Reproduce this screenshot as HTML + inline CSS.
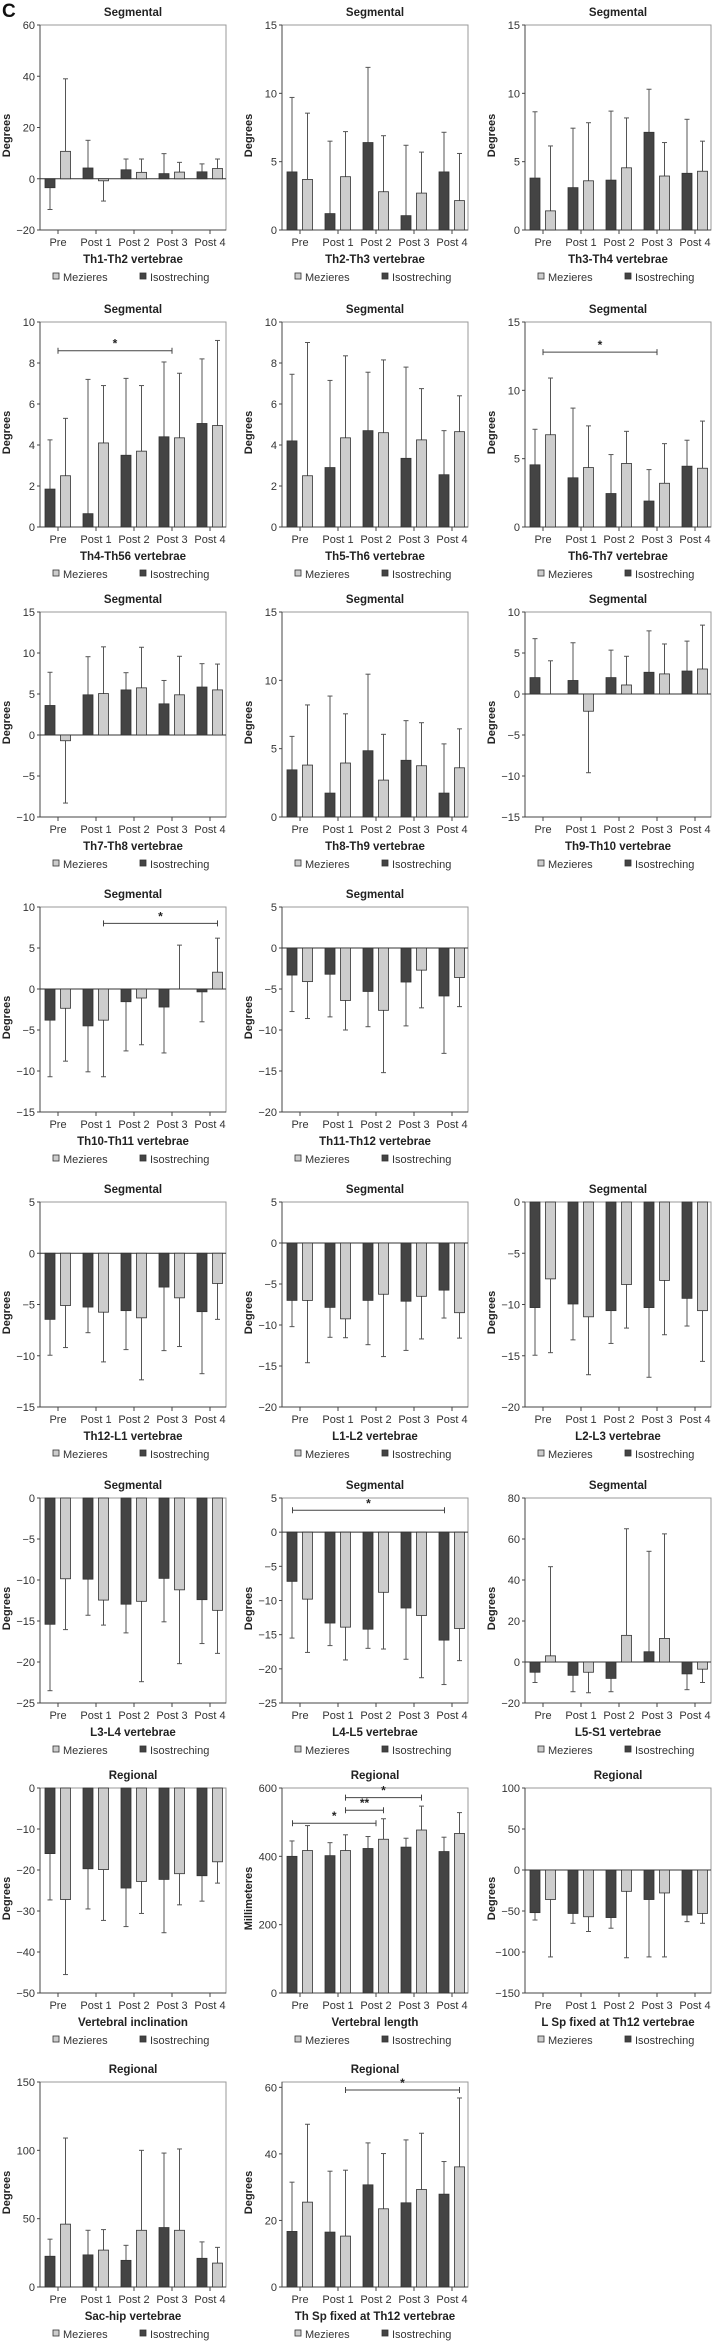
<!DOCTYPE html>
<html><head><meta charset="utf-8">
<style>
html,body{margin:0;padding:0;background:#fff;}
svg{display:block;font-family:"Liberation Sans",sans-serif;}
</style></head>
<body>
<svg id="fig" width="712" height="2343" viewBox="0 0 712 2343" xmlns="http://www.w3.org/2000/svg">
<text x="2" y="17" font-size="19" font-weight="bold" fill="#111">C</text>
</svg>
<script>
const categories = ["Pre","Post 1","Post 2","Post 3","Post 4"];

const th1Iso = [-3.5, 4.2, 3.5, 2, 2.7];
const th1IsoErr = [-12, 15, 7.7, 9.8, 5.8];
const th1Mez = [10.7, -0.8, 2.5, 2.6, 4];
const th1MezErr = [39, -8.7, 7.7, 6.4, 7.7];

const th2Iso = [4.25, 1.2, 6.4, 1.05, 4.25];
const th2IsoErr = [9.7, 6.5, 11.9, 6.2, 7.15];
const th2Mez = [3.7, 3.9, 2.8, 2.7, 2.15];
const th2MezErr = [8.55, 7.2, 6.9, 5.7, 5.6];

const th3Iso = [3.8, 3.1, 3.65, 7.15, 4.15];
const th3IsoErr = [8.65, 7.45, 8.7, 10.3, 8.1];
const th3Mez = [1.4, 3.6, 4.55, 3.95, 4.3];
const th3MezErr = [6.15, 7.85, 8.2, 6.4, 6.5];

const th4Iso = [1.85, 0.65, 3.5, 4.4, 5.05];
const th4IsoErr = [4.25, 7.2, 7.25, 8.05, 8.2];
const th4Mez = [2.5, 4.1, 3.7, 4.35, 4.95];
const th4MezErr = [5.3, 6.9, 6.9, 7.5, 9.1];

const th5Iso = [4.2, 2.9, 4.7, 3.35, 2.55];
const th5IsoErr = [7.45, 7.15, 7.55, 7.8, 4.7];
const th5Mez = [2.5, 4.35, 4.6, 4.25, 4.65];
const th5MezErr = [9.0, 8.35, 8.15, 6.75, 6.4];

const th6Iso = [4.55, 3.6, 2.45, 1.9, 4.45];
const th6IsoErr = [7.15, 8.7, 5.3, 4.2, 6.35];
const th6Mez = [6.75, 4.35, 4.65, 3.2, 4.3];
const th6MezErr = [10.9, 7.4, 7.0, 6.1, 7.75];

const th7Iso = [3.6, 4.9, 5.5, 3.8, 5.85];
const th7IsoErr = [7.65, 9.55, 7.6, 6.65, 8.7];
const th7Mez = [-0.7, 5.05, 5.75, 4.9, 5.5];
const th7MezErr = [-8.3, 10.75, 10.7, 9.6, 8.65];

const th8Iso = [3.45, 1.75, 4.85, 4.15, 1.75];
const th8IsoErr = [5.9, 8.85, 10.45, 7.05, 5.35];
const th8Mez = [3.8, 3.95, 2.7, 3.75, 3.6];
const th8MezErr = [8.2, 7.55, 6.05, 6.9, 6.45];

const th9Iso = [2, 1.65, 2, 2.65, 2.8];
const th9IsoErr = [6.75, 6.25, 5.35, 7.7, 6.45];
const th9Mez = [0, -2.1, 1.1, 2.45, 3.05];
const th9MezErr = [4.05, -9.6, 4.6, 6.1, 8.4];

const th10Iso = [-3.8, -4.5, -1.55, -2.2, -0.35];
const th10IsoErr = [-10.7, -10.1, -7.55, -7.8, -4.0];
const th10Mez = [-2.35, -3.8, -1.1, 0, 2.05];
const th10MezErr = [-8.8, -10.7, -6.8, 5.35, 6.2];

const th11Iso = [-3.3, -3.2, -5.3, -4.15, -5.85];
const th11IsoErr = [-7.75, -8.4, -9.6, -9.5, -12.85];
const th11Mez = [-4.1, -6.4, -7.6, -2.7, -3.6];
const th11MezErr = [-8.6, -10.0, -15.2, -7.3, -7.15];

const th12Iso = [-6.45, -5.25, -5.6, -3.3, -5.7];
const th12IsoErr = [-9.95, -7.75, -9.4, -9.5, -11.75];
const th12Mez = [-5.1, -5.75, -6.3, -4.35, -2.95];
const th12MezErr = [-9.2, -10.6, -12.35, -9.1, -6.45];

const l1Iso = [-7.0, -7.85, -7.0, -7.1, -5.75];
const l1IsoErr = [-10.2, -11.5, -12.4, -13.1, -9.15];
const l1Mez = [-7.0, -9.25, -6.25, -6.5, -8.5];
const l1MezErr = [-14.6, -11.55, -13.85, -11.7, -11.6];

const l2Iso = [-10.3, -9.95, -10.6, -10.3, -9.4];
const l2IsoErr = [-14.95, -13.45, -13.8, -17.1, -12.1];
const l2Mez = [-7.5, -11.2, -8.05, -7.65, -10.6];
const l2MezErr = [-14.7, -16.85, -12.3, -12.95, -15.55];

const l3Iso = [-15.4, -9.9, -12.95, -9.8, -12.4];
const l3IsoErr = [-23.5, -14.3, -16.45, -15.1, -17.75];
const l3Mez = [-9.85, -12.45, -12.6, -11.2, -13.7];
const l3MezErr = [-16.05, -15.5, -22.4, -20.2, -18.95];

const l4Iso = [-7.2, -13.3, -14.2, -11.1, -15.8];
const l4IsoErr = [-15.5, -16.6, -17.0, -18.6, -22.3];
const l4Mez = [-9.8, -13.9, -8.8, -12.2, -14.1];
const l4MezErr = [-17.6, -18.7, -17.1, -21.3, -18.8];

const l5Iso = [-5, -6.5, -8, 5, -5.8];
const l5IsoErr = [-10, -14.5, -14.5, 54, -13.5];
const l5Mez = [3, -5, 13, 11.5, -3.5];
const l5MezErr = [46.5, -15, 65, 62.5, -10];

const incIso = [-16, -19.7, -24.4, -22.3, -21.4];
const incIsoErr = [-27.3, -29.5, -33.8, -35.3, -27.6];
const incMez = [-27.2, -19.9, -22.8, -20.9, -18];
const incMezErr = [-45.5, -32.3, -30.6, -28.5, -23.2];

const lenIso = [400, 402, 423, 427, 414];
const lenIsoErr = [445, 440, 458, 453, 456];
const lenMez = [417, 417, 450, 477, 467];
const lenMezErr = [490, 463, 510, 547, 528];

const lspIso = [-52, -53, -58, -36, -55];
const lspIsoErr = [-61, -65, -71, -106, -63];
const lspMez = [-36, -57, -26, -28, -53];
const lspMezErr = [-106, -75, -107, -106, -65];

const sacIso = [22.5, 23.5, 19.5, 43.5, 21];
const sacIsoErr = [35, 41.5, 30.5, 98, 33];
const sacMez = [46, 27, 41.5, 41.5, 17.5];
const sacMezErr = [109, 42, 100, 101, 29];

const thspIso = [16.7, 16.5, 30.7, 25.3, 27.9];
const thspIsoErr = [31.5, 34.8, 43.3, 44.2, 37.7];
const thspMez = [25.5, 15.3, 23.5, 29.3, 36.1];
const thspMezErr = [48.9, 35.1, 40.1, 46.2, 56.8];

const panels = [
 {t:"Segmental",lab:"Th1-Th2 vertebrae",yl:"Degrees",min:-20,max:60,step:20,iso:th1Iso,isoE:th1IsoErr,mez:th1Mez,mezE:th1MezErr,br:[]},
 {t:"Segmental",lab:"Th2-Th3 vertebrae",yl:"Degrees",min:0,max:15,step:5,iso:th2Iso,isoE:th2IsoErr,mez:th2Mez,mezE:th2MezErr,br:[]},
 {t:"Segmental",lab:"Th3-Th4 vertebrae",yl:"Degrees",min:0,max:15,step:5,iso:th3Iso,isoE:th3IsoErr,mez:th3Mez,mezE:th3MezErr,br:[]},
 {t:"Segmental",lab:"Th4-Th56 vertebrae",yl:"Degrees",min:0,max:10,step:2,iso:th4Iso,isoE:th4IsoErr,mez:th4Mez,mezE:th4MezErr,br:[[0,0,3,0,8.6,"*"]]},
 {t:"Segmental",lab:"Th5-Th6 vertebrae",yl:"Degrees",min:0,max:10,step:2,iso:th5Iso,isoE:th5IsoErr,mez:th5Mez,mezE:th5MezErr,br:[]},
 {t:"Segmental",lab:"Th6-Th7 vertebrae",yl:"Degrees",min:0,max:15,step:5,iso:th6Iso,isoE:th6IsoErr,mez:th6Mez,mezE:th6MezErr,br:[[0,0,3,0,12.8,"*"]]},
 {t:"Segmental",lab:"Th7-Th8 vertebrae",yl:"Degrees",min:-10,max:15,step:5,iso:th7Iso,isoE:th7IsoErr,mez:th7Mez,mezE:th7MezErr,br:[]},
 {t:"Segmental",lab:"Th8-Th9 vertebrae",yl:"Degrees",min:0,max:15,step:5,iso:th8Iso,isoE:th8IsoErr,mez:th8Mez,mezE:th8MezErr,br:[]},
 {t:"Segmental",lab:"Th9-Th10 vertebrae",yl:"Degrees",min:-15,max:10,step:5,iso:th9Iso,isoE:th9IsoErr,mez:th9Mez,mezE:th9MezErr,br:[]},
 {t:"Segmental",lab:"Th10-Th11 vertebrae",yl:"Degrees",min:-15,max:10,step:5,iso:th10Iso,isoE:th10IsoErr,mez:th10Mez,mezE:th10MezErr,br:[[1,1,4,1,8.0,"*"]]},
 {t:"Segmental",lab:"Th11-Th12 vertebrae",yl:"Degrees",min:-20,max:5,step:5,iso:th11Iso,isoE:th11IsoErr,mez:th11Mez,mezE:th11MezErr,br:[]},
 null,
 {t:"Segmental",lab:"Th12-L1 vertebrae",yl:"Degrees",min:-15,max:5,step:5,iso:th12Iso,isoE:th12IsoErr,mez:th12Mez,mezE:th12MezErr,br:[]},
 {t:"Segmental",lab:"L1-L2 vertebrae",yl:"Degrees",min:-20,max:5,step:5,iso:l1Iso,isoE:l1IsoErr,mez:l1Mez,mezE:l1MezErr,br:[]},
 {t:"Segmental",lab:"L2-L3 vertebrae",yl:"Degrees",min:-20,max:0,step:5,iso:l2Iso,isoE:l2IsoErr,mez:l2Mez,mezE:l2MezErr,br:[]},
 {t:"Segmental",lab:"L3-L4 vertebrae",yl:"Degrees",min:-25,max:0,step:5,iso:l3Iso,isoE:l3IsoErr,mez:l3Mez,mezE:l3MezErr,br:[]},
 {t:"Segmental",lab:"L4-L5 vertebrae",yl:"Degrees",min:-25,max:5,step:5,iso:l4Iso,isoE:l4IsoErr,mez:l4Mez,mezE:l4MezErr,br:[[0,-1,4,-1,3.2,"*"]]},
 {t:"Segmental",lab:"L5-S1 vertebrae",yl:"Degrees",min:-20,max:80,step:20,iso:l5Iso,isoE:l5IsoErr,mez:l5Mez,mezE:l5MezErr,br:[]},
 {t:"Regional",lab:"Vertebral inclination",yl:"Degrees",min:-50,max:0,step:10,iso:incIso,isoE:incIsoErr,mez:incMez,mezE:incMezErr,br:[]},
 {t:"Regional",lab:"Vertebral length",yl:"Millimeteres",min:0,max:600,step:200,iso:lenIso,isoE:lenIsoErr,mez:lenMez,mezE:lenMezErr,br:[[0,-1,2,0,497,"*"],[1,1,2,1,535,"**"],[1,1,3,1,572,"*"]]},
 {t:"Regional",lab:"L Sp fixed at Th12 vertebrae",yl:"Degrees",min:-150,max:100,step:50,iso:lspIso,isoE:lspIsoErr,mez:lspMez,mezE:lspMezErr,br:[]},
 {t:"Regional",lab:"Sac-hip vertebrae",yl:"Degrees",min:0,max:150,step:50,iso:sacIso,isoE:sacIsoErr,mez:sacMez,mezE:sacMezErr,br:[]},
 {t:"Regional",lab:"Th Sp fixed at Th12 vertebrae",yl:"Degrees",min:0,max:61.6,step:20,iso:thspIso,isoE:thspIsoErr,mez:thspMez,mezE:thspMezErr,br:[[1,1,4,1,59.2,"*"]]}
];

const colLefts = [40, 282, 525];
const rowTops = [25, 322, 612, 907, 1202, 1498, 1788, 2082];
const PW = 186, PH = 205;
const svg = document.getElementById('fig');
const NS = "http://www.w3.org/2000/svg";
function mk(tag, attrs, parent){
  const e = document.createElementNS(NS, tag);
  for (const k in attrs) e.setAttribute(k, attrs[k]);
  (parent||svg).appendChild(e);
  return e;
}
function txt(parent, x, y, s, size, anchor, weight, fill){
  const t = mk('text', {x:x, y:y, 'font-size':size, 'text-anchor':anchor||'start', 'font-weight':weight||'normal', fill:fill||'#333'}, parent);
  t.textContent = s;
  return t;
}

panels.forEach((p, idx) => {
  if (!p) return;
  const L = colLefts[idx % 3], T = rowTops[Math.floor(idx / 3)];
  const B = T + PH;
  const g = mk('g', {});
  
  
  const y = v => B - (v - p.min) / (p.max - p.min) * PH;
  const cx = i => L + 18 + i * 38;

  // frame
  const frame = mk('rect', {x:L, y:T, width:PW, height:PH, fill:'none', stroke:'#999', 'stroke-width':1}, g);
  
  
  mk('line', {x1:L, y1:T, x2:L, y2:B, stroke:'#444', 'stroke-width':1}, g);
  mk('line', {x1:L, y1:B, x2:L+PW, y2:B, stroke:'#444', 'stroke-width':1}, g);

  // title
  const tt = txt(g, L + PW/2, T - 9, p.t, 11.5, 'middle', 'bold', '#222');
  
  

  // y ticks
  for (let v = p.min; v <= p.max + 1e-9; v += p.step) {
    const yy = y(v);
    mk('line', {x1:L-3, y1:yy, x2:L, y2:yy, stroke:'#444'}, g);
    const lbl = txt(g, L - 5, yy + 4, (v < 0 ? '\u2212' + Math.abs(v) : String(v)), 11, 'end', 'normal', '#333');
    
    
  }
  const yt = txt(g, 0, 0, p.yl, 11, 'middle', 'bold', '#222');
  yt.setAttribute('transform', 'translate(' + (L - 30) + ',' + (T + PH/2 + 8) + ') rotate(-90)');
  
  

  // zero line
  if (p.min < 0 && p.max > 0) mk('line', {x1:L, y1:y(0), x2:L+PW, y2:y(0), stroke:'#333', 'stroke-width':1}, g);

  // bars
  categories.forEach((c, i) => {
    const x0 = cx(i);
    mk('line', {x1:x0, y1:B, x2:x0, y2:B+4, stroke:'#444'}, g);
    const xl = txt(g, x0, B + 16, c, 11, 'middle', 'normal', '#333');
    
    

    [[p.iso[i], p.isoE[i], x0 - 13, '#444', 'bar-isostreching'], [p.mez[i], p.mezE[i], x0 + 2.5, '#cdcdcd', 'bar-mezieres']].forEach(d => {
      const v = d[0], e = d[1], bx = d[2];
      const y0 = y(0 > p.min ? 0 : p.min), y1 = y(v);
      const midx = bx + 5;
      const el = mk('line', {x1:midx, y1:y1, x2:midx, y2:y(e), stroke:'#555', 'stroke-width':1}, g);
      
      
      mk('line', {x1:midx-2.5, y1:y(e), x2:midx+2.5, y2:y(e), stroke:'#555', 'stroke-width':1}, g);
      const r = mk('rect', {x:bx, y:Math.min(y0,y1), width:10, height:Math.max(Math.abs(y1-y0),0.01), fill:d[3], stroke:'#333', 'stroke-width':0.8}, g);
      
      
    });
  });

  // significance brackets
  p.br.forEach(b => {
    const xa = cx(b[0]) + b[1]*7.5, xb = cx(b[2]) + b[3]*7.5, yy = y(b[4]);
    const bl = mk('line', {x1:xa, y1:yy, x2:xb, y2:yy, stroke:'#444'}, g);
    
    
    mk('line', {x1:xa, y1:yy-3, x2:xa, y2:yy+3, stroke:'#444'}, g);
    mk('line', {x1:xb, y1:yy-3, x2:xb, y2:yy+3, stroke:'#444'}, g);
    const st = txt(g, (xa+xb)/2, yy - 3, b[5], 12, 'middle', 'bold', '#222');
    
    
  });

  // x-axis label
  const al = txt(g, L + PW/2, B + 33, p.lab, 11.5, 'middle', 'bold', '#222');
  
  

  // legend
  const lg = mk('g', {}, g);
  
  
  mk('rect', {x:L+13, y:B+43, width:6, height:6, fill:'#cdcdcd', stroke:'#333', 'stroke-width':0.8}, lg);
  txt(lg, L+23, B+51, 'Mezieres', 11, 'start', 'normal', '#333');
  mk('rect', {x:L+100, y:B+43, width:6, height:6, fill:'#444', stroke:'#333', 'stroke-width':0.8}, lg);
  txt(lg, L+110, B+51, 'Isostreching', 11, 'start', 'normal', '#333');
});
</script>
</body></html>
